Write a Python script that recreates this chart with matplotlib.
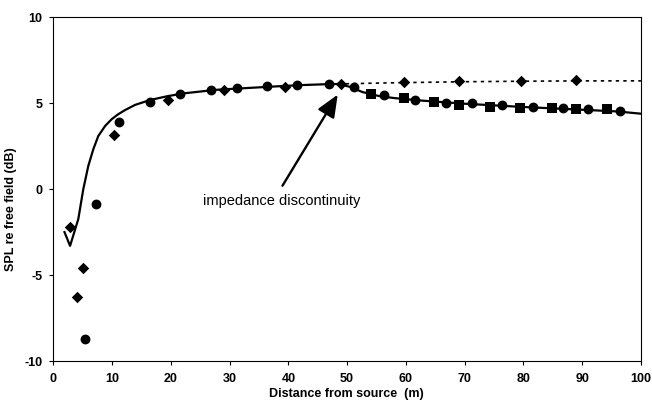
import matplotlib
matplotlib.use("Agg")
import matplotlib.pyplot as plt

plt.rcParams['font.family'] = ['Liberation Sans', 'DejaVu Sans']

# Measured points
diamond_x = [2.8, 4.1, 5.1, 10.4, 19.6, 29.0, 39.5, 49.0, 59.7, 69.0, 79.6, 89.0]
diamond_y = [-2.2, -6.25, -4.57, 3.15, 5.18, 5.76, 5.92, 6.09, 6.23, 6.27, 6.31, 6.33]

circle_x = [5.4, 7.25, 11.2, 16.5, 21.6, 26.9, 31.2, 36.4, 41.5, 47.0, 51.1,
            56.3, 61.6, 66.9, 71.3, 76.4, 81.7, 86.8, 91.0, 96.4]
circle_y = [-8.7, -0.87, 3.9, 5.07, 5.51, 5.76, 5.9, 6.0, 6.05, 6.09, 5.96,
            5.47, 5.18, 4.99, 4.99, 4.88, 4.8, 4.74, 4.64, 4.54]

square_x = [54.1, 59.7, 64.8, 69.0, 74.3, 79.5, 84.9, 89.0, 94.2]
square_y = [5.53, 5.3, 5.07, 4.92, 4.8, 4.74, 4.70, 4.64, 4.68]

# Predicted curve (with impedance discontinuity)
model_x = [1.9, 2.85, 4.25, 5.1, 5.95, 6.8, 7.65, 8.8, 9.9, 11.0, 12.2, 13.9, 16.4,
           19.3, 22.1, 27.7, 32.8, 38.0, 41.9, 46.0, 48.5, 50.5, 52.6, 55.5, 58.0,
           62.0, 70.0, 80.0, 90.0, 96.0, 100.0]
model_y = [-2.5, -3.3, -1.74, 0.0, 1.35, 2.32, 3.09, 3.67, 4.06, 4.35, 4.6, 4.9, 5.18,
           5.4, 5.57, 5.78, 5.88, 5.98, 6.05, 6.1, 6.12, 5.95, 5.65, 5.41, 5.3,
           5.17, 4.97, 4.78, 4.62, 4.52, 4.39]

# Predicted curve (no discontinuity)
cont_x = [48.5, 55.0, 60.0, 70.0, 80.0, 90.0, 100.0]
cont_y = [6.12, 6.17, 6.2, 6.25, 6.28, 6.3, 6.3]

annot_text = 'impedance discontinuity'
annot_text_xy = (25.5, -0.7)
arrow_tail = (39.0, 0.2)
arrow_head = (48.4, 5.5)

fig = plt.figure(figsize=(6.52, 4.0), dpi=100)
ax = fig.add_axes([0.0818, 0.0975, 0.9012, 0.8593])

ax.plot(model_x, model_y, color='black', lw=1.6, zorder=2)
ax.plot(cont_x, cont_y, color='black', lw=1.2, linestyle=(0, (2, 2.5)), zorder=2)

ax.scatter(diamond_x, diamond_y, marker='D', s=34, color='black', zorder=3, linewidths=0)
ax.scatter(circle_x, circle_y, marker='o', s=50, color='black', zorder=3, linewidths=0)
ax.scatter(square_x, square_y, marker='s', s=42, color='black', zorder=3, linewidths=0)

ax.text(annot_text_xy[0], annot_text_xy[1], annot_text, fontsize=10.5,
        va='center', ha='left')
ax.annotate('', xy=arrow_head, xytext=arrow_tail,
            arrowprops=dict(arrowstyle='-|>,head_length=1.3,head_width=0.55',
                            color='black', lw=1.7, shrinkA=0, shrinkB=0,
                            mutation_scale=10.5))

ax.set_xlim(0, 100)
ax.set_ylim(-10, 10)
ax.set_xticks(range(0, 101, 10))
ax.set_yticks([-10, -5, 0, 5, 10])
ax.set_yticklabels(['-10', '-5', '0', '5', '10'])

for sp in ax.spines.values():
    sp.set_linewidth(0.8)
    sp.set_color('black')

ax.tick_params(axis='both', direction='out', length=3, width=0.8, labelsize=9)
ax.tick_params(axis='x', pad=6)
ax.tick_params(axis='y', pad=5)
for lbl in ax.get_xticklabels() + ax.get_yticklabels():
    lbl.set_fontweight('bold')

ax.set_xlabel('Distance from source  (m)', fontsize=9, fontweight='bold')
ax.set_ylabel('SPL re free field (dB)', fontsize=9, fontweight='bold')
ax.xaxis.set_label_coords(0.499, -0.079)
ax.yaxis.set_label_coords(-0.062, 0.442)

fig.savefig('out.png', dpi=100)
